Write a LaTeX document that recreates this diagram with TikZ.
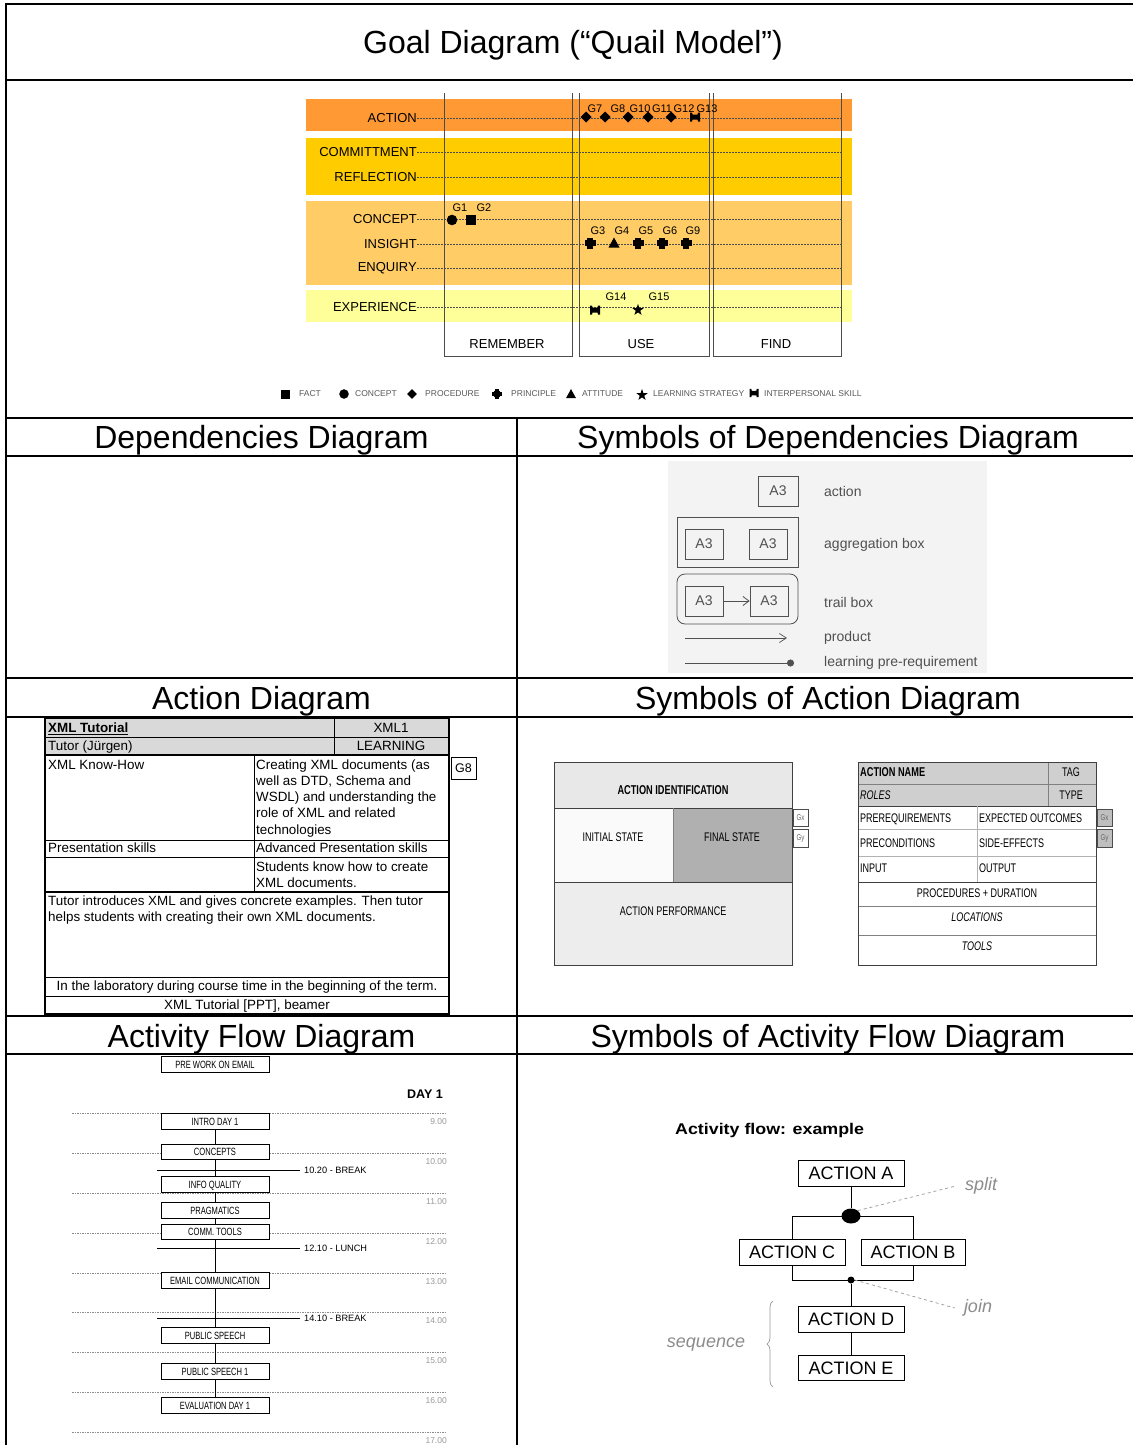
\documentclass[tikz,border=0pt]{standalone}
\usepackage{fontspec}
\setmainfont{Liberation Sans}
\newfontfamily\narrow[FakeStretch=0.72]{Liberation Sans}
\newfontfamily\widesans[FakeStretch=1.15]{Liberation Sans}
\usetikzlibrary{arrows.meta,decorations.pathreplacing,shapes.geometric}
\definecolor{bandA}{HTML}{FF9933}
\definecolor{bandB}{HTML}{FFCC00}
\definecolor{bandC}{HTML}{FFCC66}
\definecolor{bandD}{HTML}{FFFF99}
\definecolor{depbg}{HTML}{F3F3F3}
\definecolor{depfg}{HTML}{505050}
\definecolor{cellgray}{HTML}{D9D9D9}
\definecolor{finalgray}{HTML}{B0B0B0}
\definecolor{headgray}{HTML}{CFCFCF}
\newcommand{\myfz}[1]{\fontsize{#1}{#1}\selectfont}
\tikzset{
  frameline/.style={line width=2pt},
  sectitle/.style={font=\myfz{32}, inner sep=0, anchor=base},
  rowlbl/.style={anchor=east, font=\myfz{13}, inner sep=0},
  glbl/.style={font=\myfz{11}, inner sep=0},
  rowline/.style={draw=black!70, line width=0.4pt, dash pattern=on 2pt off 1pt},
  colline/.style={draw=black!70, line width=0.9pt},
  leglbl/.style={anchor=west, font=\myfz{8.5}, text=black!65, inner sep=0},
  pics/fact/.style={code={\fill (-5,-5) rectangle (5,5);}},
  pics/concept/.style={code={\fill (0,0) circle (5.3);}},
  pics/procedure/.style={code={\fill (-5.5,0) -- (0,-5.5) -- (5.5,0) -- (0,5.5) -- cycle;}},
  pics/principle/.style={code={\fill (-5.5,-2.6) rectangle (5.5,2.6); \fill (-2.6,-5.5) rectangle (2.6,5.5); \fill (0,0) circle (4.4);}},
  pics/attitude/.style={code={\fill (-5.5,4.5) -- (5.5,4.5) -- (0,-5.5) -- cycle;}},
  pics/strategy/.style={code={\node[star, star points=5, star point ratio=2.5, fill, inner sep=0, minimum size=12pt] {};}},
  pics/interp/.style={code={\fill (-5,-4.5) -- (-3,-4.5) -- (-2.5,-2.5) -- (2.5,-2.5) -- (3,-4.5) -- (5,-4.5) -- (5,4.5) -- (3,4.5) -- (2.5,2.5) -- (-2.5,2.5) -- (-3,4.5) -- (-5,4.5) -- cycle;}},
  dbox/.style={draw=depfg, line width=0.8pt, font=\myfz{14}, text=depfg, minimum width=38pt, minimum height=30pt, inner sep=0},
  dlbl/.style={anchor=west, font=\myfz{14}, text=depfg, inner sep=0},
  tcell/.style={anchor=west, font=\myfz{13.4}, inner sep=0, text height=9.6pt, text depth=0pt},
  tcellc/.style={tcell, anchor=center},
  sa/.style={font=\narrow\myfz{12.5}, inner sep=0, text height=9pt, text depth=0pt},
  sab/.style={sa, font=\narrow\bfseries\myfz{12.8}},
  sai/.style={sa, font=\narrow\itshape\myfz{12.5}},
  gsmall/.style={draw=black!70, line width=0.7pt, font=\narrow\myfz{8.5}, text=black!60, inner sep=0, minimum width=15pt, minimum height=17pt},
  afbox/.style={draw, fill=white, line width=0.8pt, minimum width=108pt, minimum height=15.5pt, inner sep=0, font=\narrow\myfz{10.5}, text height=7.5pt, text depth=0pt},
  tdash/.style={draw=black!45, line width=0.5pt, dash pattern=on 1.5pt off 1pt},
  tlbl/.style={anchor=east, font=\myfz{8.5}, text=black!40, inner sep=0},
  brk/.style={anchor=west, font=\myfz{9.2}, inner sep=0},
  brkline/.style={line width=0.8pt},
  fbox/.style={draw, line width=0.8pt, minimum height=26pt, font=\myfz{18}, inner sep=0},
  fline/.style={line width=0.8pt},
  notelbl/.style={font=\itshape\myfz{18}, text=black!45, inner sep=0},
  noteline/.style={draw=black!40, dashed, line width=0.7pt},
}
\begin{document}
\begin{tikzpicture}[x=1pt,y=-1pt]
\useasboundingbox (0,0) rectangle (1133,1445);
\fill[white] (0,0) rectangle (1133,1445);

% ---------- frame ----------
\draw[frameline] (6,1445) -- (6,4) -- (1133,4);
\foreach \yy in {80,418,456,678,717,1016,1054} {\draw[frameline] (6,\yy) -- (1133,\yy);}
\draw[frameline] (517,418) -- (517,1445);

% ---------- titles ----------
\node[sectitle] (t0) at (573,53.5) {Goal Diagram (“Quail Model”)};
\node[sectitle] (t1) at (261.5,448.5) {Dependencies Diagram};
\node[sectitle] (t2) at (828,448.5) {Symbols of Dependencies Diagram};
\node[sectitle] (t3) at (261.5,709.5) {Action Diagram};
\node[sectitle] (t4) at (828,709.5) {Symbols of Action Diagram};
\node[sectitle] (t5) at (261.5,1047.5) {Activity Flow Diagram};
\node[sectitle] (t6) at (828,1047.5) {Symbols of Activity Flow Diagram};

% ---------- goal diagram ----------
\fill[bandA] (306,99) rectangle (852,131);
\fill[bandB] (306,138) rectangle (852,195);
\fill[bandC] (306,201) rectangle (852,285);
\fill[bandD] (306,290) rectangle (852,322);
\foreach \yy/\nm/\tx in {118/lA/ACTION,152/lCo/COMMITTMENT,177/lR/REFLECTION,219/lC/CONCEPT,244/lI/INSIGHT,268/lE/ENQUIRY,307/lX/EXPERIENCE} {
  \node[rowlbl] (\nm) at (417,\yy) {\tx};
  \draw[rowline] (\nm.east) -- (841,\yy);
}
\draw[colline] (444,93) -- (444,356) -- (572,356) -- (572,93);
\draw[colline] (579,93) -- (579,356) -- (709,356) -- (709,93);
\draw[colline] (713,93) -- (713,356) -- (841,356) -- (841,93);
\node[font=\myfz{13}, inner sep=0] (cRem) at (507,344) {REMEMBER};
\node[font=\myfz{13}, inner sep=0] (cUse) at (641,344) {USE};
\node[font=\myfz{13}, inner sep=0] (cFind) at (776,344) {FIND};

% marks: action row
\pic at (586,117) {procedure};
\pic at (605,117) {procedure};
\pic at (628,117) {procedure};
\pic at (648,117) {procedure};
\pic at (671,117) {procedure};
\pic at (695,117) {interp};
\node[glbl] (g7) at (595,109) {G7};
\node[glbl] (g8) at (618,109) {G8};
\node[glbl] (g10) at (640,109) {G10};
\node[glbl] (g11) at (662,109) {G11};
\node[glbl] (g12) at (684,109) {G12};
\node[glbl] (g13) at (707,109) {G13};
% concept row
\pic at (452,220) {concept};
\pic at (471,220) {fact};
\node[glbl] (g1) at (460,208) {G1};
\node[glbl] (g2) at (484,208) {G2};
% insight row
\pic at (590,243) {principle};
\pic at (614,243) {attitude};
\pic at (638,243) {principle};
\pic at (662,243) {principle};
\pic at (686,243) {principle};
\node[glbl] (g3) at (598,231) {G3};
\node[glbl] (g4) at (622,231) {G4};
\node[glbl] (g5) at (646,231) {G5};
\node[glbl] (g6) at (670,231) {G6};
\node[glbl] (g9) at (693,231) {G9};
% experience row
\pic at (595,310) {interp};
\pic at (638,310) {strategy};
\node[glbl] (g14) at (616,297) {G14};
\node[glbl] (g15) at (659,297) {G15};

% legend
\pic[scale=0.9] at (285,394) {fact};
\node[leglbl] (lg1) at (299,394) {FACT};
\pic[scale=0.9] at (344,394) {concept};
\node[leglbl] (lg2) at (355,394) {CONCEPT};
\pic[scale=0.9] at (412,394) {procedure};
\node[leglbl] (lg3) at (425,394) {PROCEDURE};
\pic[scale=0.9] at (497,394) {principle};
\node[leglbl] (lg4) at (511,394) {PRINCIPLE};
\pic[scale=0.9] at (571,394) {attitude};
\node[leglbl] (lg5) at (582,394) {ATTITUDE};
\pic at (642,395) {strategy};
\node[leglbl] (lg6) at (653,394) {LEARNING STRATEGY};
\pic[scale=0.9] at (754,393) {interp};
\node[leglbl] (lg7) at (764,394) {INTERPERSONAL SKILL};

% ---------- symbols of dependencies ----------
\fill[depbg] (668,461) rectangle (987,673);
\node[dbox, minimum width=40pt] (act) at (778,491) {A3};
\node[dlbl] (actl) at (824,491) {action};
\node[draw=depfg, line width=0.8pt, minimum width=121pt, minimum height=50pt, inner sep=0] (agg) at (737.5,542) {};
\node[dbox] (agg1) at (704,544) {A3};
\node[dbox] (agg2) at (768,544) {A3};
\node[dlbl] (aggl) at (824,545) {aggregation box};
\node[draw=depfg, line width=0.8pt, rounded corners=8pt, minimum width=121pt, minimum height=50pt, inner sep=0] (trl) at (737.5,599) {};
\node[dbox] (trl1) at (704,601) {A3};
\node[dbox] (trl2) at (769,601) {A3};
\draw[draw=depfg, line width=0.8pt, -{Straight Barb[length=6pt,width=9pt]}] (trl1) -- (trl2);
\node[dlbl] (trll) at (824,602) {trail box};
\coordinate (p1) at (685,638);
\coordinate (p2) at (787,638);
\draw[draw=depfg, line width=0.7pt, -{Straight Barb[length=7pt,width=9pt]}] (p1) -- (p2);
\node[dlbl] (prl) at (824,638) {product};
\coordinate (q1) at (685,663);
\coordinate (q2) at (794,663);
\draw[draw=depfg, line width=0.7pt, -{Circle[length=7pt,fill=depfg]}] (q1) -- (q2);
\node[dlbl] (lrl) at (824,663) {learning pre-requirement};

% ---------- action diagram ----------
\fill[cellgray] (45,718) rectangle (449,755);
\draw[line width=0.6pt] (45,737) -- (449,737);
\draw[line width=1.5pt] (45,755) -- (449,755);
\draw[line width=0.6pt] (45,840) -- (449,840);
\draw[line width=0.6pt] (45,857) -- (449,857);
\draw[line width=1.5pt] (45,892) -- (449,892);
\draw[line width=0.6pt] (45,977) -- (449,977);
\draw[line width=0.6pt] (45,996) -- (449,996);
\draw[line width=0.6pt] (334,718) -- (334,755);
\draw[line width=0.6pt] (254,755) -- (254,892);
\draw[line width=1.6pt] (45,718) rectangle (449,1014);
\node[tcell] (a1) at (48,728) {\textbf{\underline{XML Tutorial}}};
\node[tcellc] (a2) at (391,728) {XML1};
\node[tcell] (a3) at (48,746) {Tutor (Jürgen)};
\node[tcellc] (a4) at (391,746) {LEARNING};
\node[tcell] (a5) at (48,765) {XML Know-How};
\node[tcell] (a6) at (256,765) {Creating XML documents (as};
\node[tcell] (a7) at (256,781) {well as DTD, Schema and};
\node[tcell] (a8) at (256,797) {WSDL) and understanding the};
\node[tcell] (a9) at (256,813) {role of XML and related};
\node[tcell] (a10) at (256,830) {technologies};
\node[tcell] (a11) at (48,848) {Presentation skills};
\node[tcell] (a12) at (256,848) {Advanced Presentation skills};
\node[tcell] (a13) at (256,867) {Students know how to create};
\node[tcell] (a14) at (256,883) {XML documents.};
\node[tcell] (a15) at (48,901) {Tutor introduces XML and gives concrete examples. Then tutor};
\node[tcell] (a16) at (48,917) {helps students with creating their own XML documents.};
\node[tcellc] (a17) at (247,986) {In the laboratory during course time in the beginning of the term.};
\node[tcellc] (a18) at (247,1005) {XML Tutorial [PPT], beamer};
\node[draw, line width=0.6pt, minimum width=25pt, minimum height=22pt, inner sep=0, font=\myfz{12.5}] (g8box) at (463.5,768) {G8};

% ---------- symbols of action diagram ----------
\fill[black!9] (554,762) rectangle (792,808);
\fill[black!2] (554,808) rectangle (673,882);
\fill[finalgray] (673,808) rectangle (792,882);
\fill[black!7] (554,882) rectangle (792,965);
\draw[black!75, line width=0.9pt] (554,808) -- (792,808);
\draw[black!75, line width=0.9pt] (554,882) -- (792,882);
\draw[black!50, line width=0.6pt] (673,808) -- (673,882);
\draw[black!75, line width=0.9pt] (554,762) rectangle (792,965);
\node[sab] (s1) at (673,790) {ACTION IDENTIFICATION};
\node[sa] (s2) at (613,837) {INITIAL STATE};
\node[sa] (s3) at (732,837) {FINAL STATE};
\node[sa] (s4) at (673,911) {ACTION PERFORMANCE};
\node[gsmall, fill=white] (gx1) at (800.5,817.5) {Gx};
\node[gsmall, fill=white, minimum height=18pt] (gy1) at (800.5,838) {Gy};

\fill[headgray] (858,762) rectangle (1096,806);
\draw[black!50, line width=0.6pt] (858,784) -- (1096,784);
\draw[black!75, line width=0.9pt] (858,806) -- (1096,806);
\draw[black!30, line width=0.8pt] (858,829) -- (1096,829);
\draw[black!30, line width=0.8pt] (858,856) -- (1096,856);
\draw[black!75, line width=0.9pt] (858,882) -- (1096,882);
\draw[black!50, line width=0.6pt] (858,906) -- (1096,906);
\draw[black!50, line width=0.6pt] (858,935) -- (1096,935);
\draw[black!50, line width=0.6pt] (1048,762) -- (1048,806);
\draw[black!30, line width=0.8pt] (977,806) -- (977,882);
\draw[black!75, line width=0.9pt] (858,762) rectangle (1096,965);
\node[sab, anchor=west] (r1) at (860,772) {ACTION NAME};
\node[sa] (r2) at (1071,772) {TAG};
\node[sai, anchor=west] (r3) at (860,795) {ROLES};
\node[sa] (r4) at (1071,795) {TYPE};
\node[sa, anchor=west] (r5) at (860,818) {PREREQUIREMENTS};
\node[sa, anchor=west] (r6) at (979,818) {EXPECTED OUTCOMES};
\node[sa, anchor=west] (r7) at (860,843) {PRECONDITIONS};
\node[sa, anchor=west] (r8) at (979,843) {SIDE-EFFECTS};
\node[sa, anchor=west] (r9) at (860,868) {INPUT};
\node[sa, anchor=west] (r10) at (979,868) {OUTPUT};
\node[sa] (r11) at (977,893) {PROCEDURES + DURATION};
\node[sai] (r12) at (977,917) {LOCATIONS};
\node[sai] (r13) at (977,946) {TOOLS};
\node[gsmall, fill=black!25] (gx2) at (1104.5,817.5) {Gx};
\node[gsmall, fill=black!25, minimum height=18pt] (gy2) at (1104.5,838.5) {Gy};

% ---------- activity flow diagram ----------
\foreach \yy/\tm in {1113/9.00,1153/10.00,1193/11.00,1233/12.00,1273/13.00,1312/14.00,1352/15.00,1392/16.00,1432/17.00} {
  \draw[tdash] (72,\yy) -- (447,\yy);
  \node[tlbl] at (447,\yy+9) {\tm};
}
\node[font=\bfseries\myfz{12.5}, anchor=east, inner sep=0] (day) at (443,1094) {DAY 1};
\coordinate (b1s) at (157,1170);
\coordinate (b1e) at (300,1170);
\coordinate (b2s) at (157,1248);
\coordinate (b2e) at (300,1248);
\coordinate (b3s) at (157,1318);
\coordinate (b3e) at (300,1318);
\draw[brkline] (b1s) -- (b1e);
\draw[brkline] (b2s) -- (b2e);
\draw[brkline] (b3s) -- (b3e);
\node[brk] (bl1) at (304,1170) {10.20 - BREAK};
\node[brk] (bl2) at (304,1248) {12.10 - LUNCH};
\node[brk] (bl3) at (304,1318) {14.10 - BREAK};
\node[afbox] (f0) at (215,1064.5) {PRE WORK ON EMAIL};
\node[afbox] (f1) at (215,1121.5) {INTRO DAY 1};
\node[afbox] (f2) at (215,1152) {CONCEPTS};
\node[afbox] (f3) at (215,1184.5) {INFO QUALITY};
\node[afbox] (f4) at (215,1210.5) {PRAGMATICS};
\node[afbox] (f5) at (215,1232) {COMM. TOOLS};
\node[afbox] (f6) at (215,1280.5) {EMAIL COMMUNICATION};
\node[afbox] (f7) at (215,1335.5) {PUBLIC SPEECH};
\node[afbox] (f8) at (215,1371.5) {PUBLIC SPEECH 1};
\node[afbox] (f9) at (215,1405.5) {EVALUATION DAY 1};
\foreach \a/\b in {f1/f2,f2/f3,f3/f4,f4/f5,f5/f6,f6/f7,f7/f8,f8/f9} {
  \draw[line width=0.8pt] (\a.south) -- (\b.north);
}

% ---------- activity flow example ----------
\node[font=\widesans\bfseries\myfz{15.5}, anchor=west, inner sep=0] (exh) at (675,1130) {Activity flow: example};
\node[fbox, minimum width=106pt] (A) at (851,1173) {ACTION A};
\node[fbox, minimum width=106pt] (C) at (792,1252) {ACTION C};
\node[fbox, minimum width=104pt] (B) at (913,1252) {ACTION B};
\node[fbox, minimum width=106pt] (D) at (851,1319) {ACTION D};
\node[fbox, minimum width=106pt, minimum height=25pt] (E) at (851,1368) {ACTION E};
\node[ellipse, fill, minimum width=19pt, minimum height=15pt, inner sep=0] (split) at (851,1216) {};
\node[circle, fill, minimum size=7pt, inner sep=0] (join) at (851,1280) {};
\draw[fline] (A) -- (split);
\draw[fline] (C.north) |- (split.center) -| (B.north);
\draw[fline] (C.south) |- (join.center) -| (B.south);
\draw[fline] (join) -- (D);
\draw[fline] (D) -- (E);
\node[notelbl] (splitl) at (981,1186) {split};
\node[notelbl] (joinl) at (978,1308) {join};
\node[notelbl] (seql) at (706,1345) {sequence};
\draw[noteline] (split.north east) -- ([xshift=-9pt]splitl.west);
\draw[noteline] (join.east) -- ([xshift=-9pt]joinl.west);
\draw[draw=black!40, line width=0.7pt, decorate, decoration={brace, amplitude=6pt}] (773,1387) -- (773,1301);
\end{tikzpicture}
\end{document}
